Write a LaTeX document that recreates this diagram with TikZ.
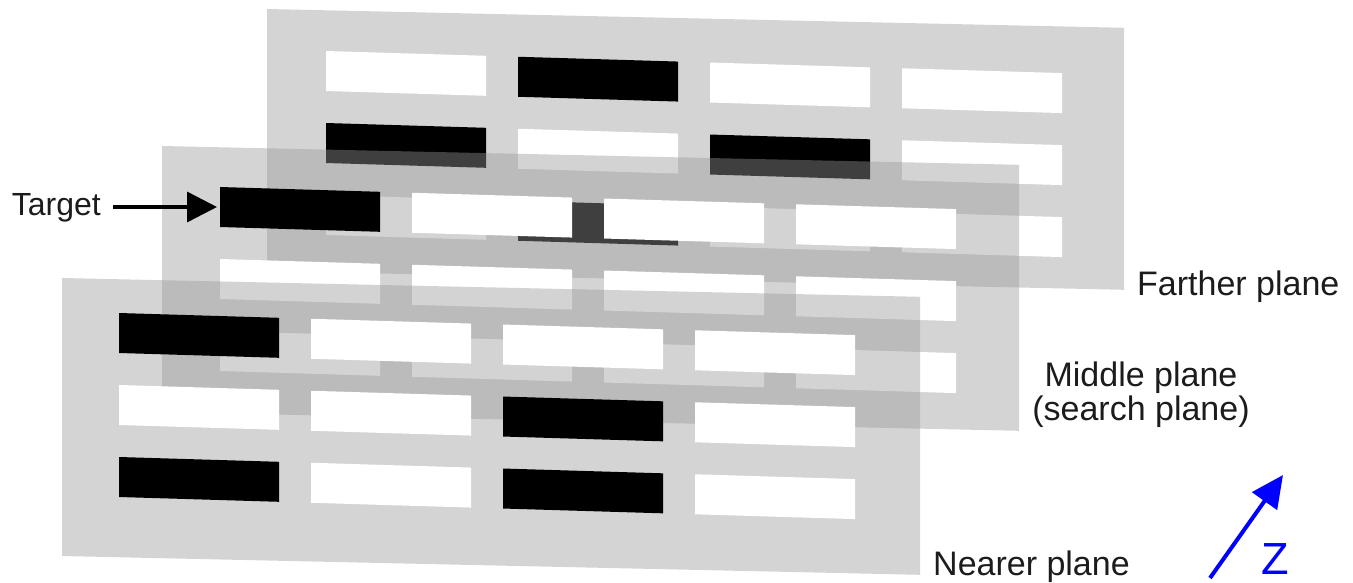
\documentclass[tikz,border=0pt]{standalone}
\usepackage{fontspec}
\setmainfont{Liberation Sans}
\usetikzlibrary{arrows.meta}
\definecolor{planegray}{gray}{0.595}
\definecolor{txt}{HTML}{1C1C1C}
\tikzset{
  plane/.style={fill=planegray, fill opacity=0.42},
  lbl/.style={text=txt, inner sep=0pt, font=\fontsize{34}{34}\selectfont},
  tarrow/.style={draw=black, line width=3.5pt, -{Triangle[length=30pt,width=30pt]}},
  zarrow/.style={draw=blue, line width=4pt, -{Triangle[length=32pt,width=30pt]}},
}
\newcommand\gridcells[3]{% #1 cx, #2 cy, #3 rows
  \foreach \row [count=\j from 0] in {#3} {
    \foreach \c [count=\i from 0] in \row {
      \fill[fill=\c] ({#1+192*\i},{#2+72*\j+5.76*\i}) -- ++(160,4.8) -- ++(0,40) -- ++(-160,-4.8) -- cycle;
    }
  }
}
\begin{document}
\begin{tikzpicture}[x=1pt,y=-1pt]
\useasboundingbox (0,0) rectangle (1353,582);
% farther plane
\fill[plane] (267,9) -- ++(857,18.8) -- ++(0,262) -- ++(-857,-18.8) -- cycle;
\gridcells{326}{51}{{white,black,white,white},{black,white,black,white},{white,black,white,white}}
% middle plane
\fill[plane] (162,146) -- ++(857,18.8) -- ++(0,266) -- ++(-857,-18.8) -- cycle;
\gridcells{220}{187}{{black,white,white,white},{white,white,white,white},{white,white,white,white}}
% nearer plane
\fill[plane] (62,278) -- ++(858,18.8) -- ++(0,278) -- ++(-858,-18.8) -- cycle;
\gridcells{119}{313}{{black,white,white,white},{white,white,black,white},{black,white,black,white}}
% labels
\node[lbl, anchor=base east, font=\fontsize{32}{32}\selectfont] (target) at (101,215) {Target};
\coordinate (tgt) at (217,207);
\draw[tarrow] (113,207 |- tgt) -- (tgt);
\node[lbl, anchor=base west] (farther) at (1137,295) {Farther plane};
\node[lbl, align=center] (middle) at (1141,395) {Middle plane\\[0pt](search plane)};
\node[lbl, anchor=base west] (nearer) at (933,575) {Nearer plane};
\coordinate (zs) at (1210,578);
\coordinate (ze) at (1283,475);
\draw[zarrow] (zs) -- (ze);
\node[lbl, text=blue, anchor=base west, font=\fontsize{45}{45}\selectfont] (zlbl) at (1261,574) {Z};
\end{tikzpicture}
\end{document}
